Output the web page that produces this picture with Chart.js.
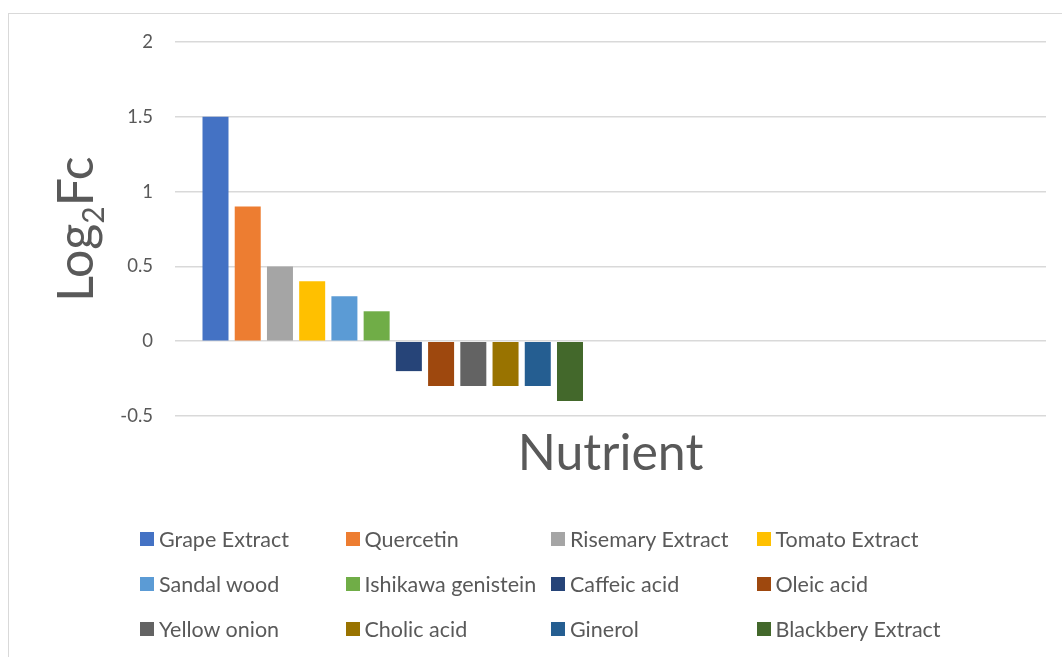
<!DOCTYPE html>
<html>
<head>
<meta charset="utf-8">
<script src="https://cdn.jsdelivr.net/npm/chart.js@4/dist/chart.umd.min.js"></script>
<style>
  html, body { margin: 0; padding: 0; background: #fff; overflow: hidden; }
  #wrap { position: relative; width: 1062px; height: 657px; }
  #frame { position: absolute; left: 8px; top: 13px; width: 1100px; height: 700px; border: 1px solid #d9d9d9; }
  #chart { position: absolute; left: 0; top: 0; }
  #legend { position: absolute; left: 140px; top: 516px; display: grid;
    grid-template-columns: repeat(4, 205.5px); grid-auto-rows: 45px;
    font-family: Lato, "Open Sans", sans-serif; font-size: 21.5px; color: #595959; }
  #legend .item { display: flex; align-items: center; height: 45px; white-space: nowrap; }
  #legend .box { width: 14px; height: 14px; margin-right: 5px; flex: none; }
</style>
</head>
<body>
<div id="wrap">
  <div id="frame"></div>
  <canvas id="chart" width="1062" height="657"></canvas>
  <div id="legend"></div>
</div>
<script>
// second category is empty, it just leaves the right half of the plot blank
const categories = ['', ''];
const nutrients = ['Grape Extract', 'Quercetin', 'Risemary Extract', 'Tomato Extract',
  'Sandal wood', 'Ishikawa genistein', 'Caffeic acid', 'Oleic acid',
  'Yellow onion', 'Cholic acid', 'Ginerol', 'Blackbery Extract'];
const log2fc = [1.5, 0.9, 0.5, 0.4, 0.3, 0.2, -0.2, -0.3, -0.3, -0.3, -0.3, -0.4];
const colors = ['#4472C4', '#ED7D31', '#A5A5A5', '#FFC000', '#5B9BD5', '#70AD47',
  '#264478', '#9E480E', '#636363', '#997300', '#255E91', '#43682B'];
const yTicks = [-0.5, 0, 0.5, 1, 1.5, 2];

const textColor = '#595959';
const font = 'Lato, "Open Sans", sans-serif';

const datasets = nutrients.map((name, i) => ({
  label: name,
  data: [log2fc[i], null],
  backgroundColor: colors[i],
  barPercentage: 0.807,
  categoryPercentage: 0.888
}));

// y title with a real subscript 2
const yTitle = {
  id: 'yTitle',
  afterDraw(chart) {
    const ctx = chart.ctx;
    const big = 50, small = 30;
    ctx.save();
    ctx.fillStyle = textColor;
    ctx.textBaseline = 'alphabetic';
    ctx.font = big + 'px ' + font;
    const w1 = ctx.measureText('Log').width;
    const w3 = ctx.measureText('Fc').width;
    ctx.font = small + 'px ' + font;
    const w2 = ctx.measureText('2').width;
    const total = w1 + w2 + w3;
    const cy = (chart.chartArea.top + chart.chartArea.bottom) / 2;
    ctx.translate(93, cy);
    ctx.rotate(-Math.PI / 2);
    let x = -total / 2;
    ctx.font = big + 'px ' + font;
    ctx.fillText('Log', x, 0);
    x += w1;
    ctx.font = small + 'px ' + font;
    ctx.fillText('2', x, 11);
    x += w2;
    ctx.font = big + 'px ' + font;
    ctx.fillText('Fc', x, 0);
    ctx.restore();
  }
};

const chart = new Chart(document.getElementById('chart'), {
  type: 'bar',
  data: { labels: categories, datasets: datasets },
  options: {
    responsive: false,
    animation: false,
    layout: { padding: { top: 42, right: 16, left: 0, bottom: 173 } },
    plugins: { legend: { display: false }, tooltip: { enabled: false } },
    scales: {
      x: {
        ticks: { display: false },
        grid: { display: false },
        border: { display: false },
        title: { display: true, text: 'Nutrient', color: textColor,
          font: { family: font, size: 50 }, padding: { top: 0, bottom: 0 } }
      },
      y: {
        min: -0.5, max: 2,
        afterBuildTicks(scale) { scale.ticks = yTicks.map(v => ({ value: v })); },
        afterFit(scale) { scale.width = 175; },
        ticks: { color: textColor, padding: 22, font: { family: font, size: 18.5 },
          callback: v => String(v) },
        grid: { color: '#d9d9d9', lineWidth: 1.5, drawTicks: false },
        border: { display: false }
      }
    }
  },
  plugins: [yTitle]
});

// legend laid out in 4 fixed columns like the original
const legend = document.getElementById('legend');
chart.data.datasets.forEach(ds => {
  const item = document.createElement('div');
  item.className = 'item';
  const box = document.createElement('span');
  box.className = 'box';
  box.style.background = ds.backgroundColor;
  const txt = document.createElement('span');
  txt.textContent = ds.label;
  item.appendChild(box);
  item.appendChild(txt);
  legend.appendChild(item);
});
</script>
</body>
</html>
